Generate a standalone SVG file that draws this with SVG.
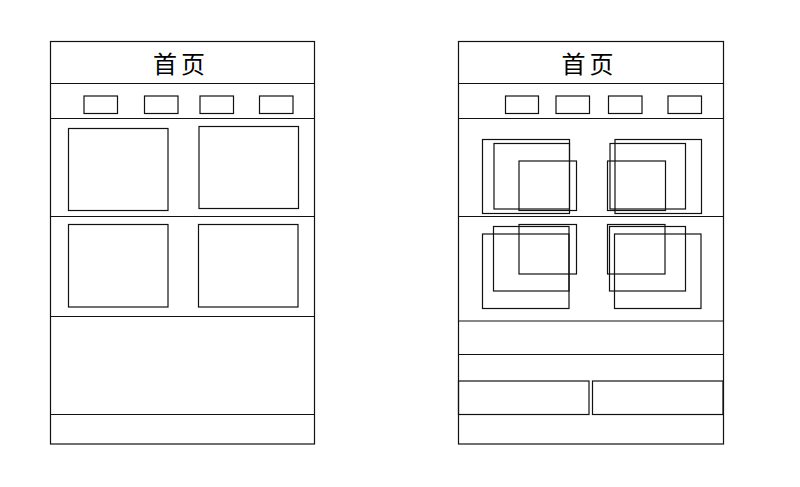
<svg xmlns="http://www.w3.org/2000/svg" width="800" height="487" viewBox="0 0 800 487">
<style>
rect, line { fill: none; stroke: #111; stroke-width: 1.2; }
.bg { fill: #fff; stroke: none; }
text { font-family: "Noto Sans CJK SC", "Noto Sans", sans-serif; font-size: 24px; fill: #000; text-anchor: middle; }
</style>
<rect class="bg" x="0" y="0" width="800" height="487"/>
<g id="page-left">
  <rect x="50.5" y="41.5" width="264" height="402.5"/>
  <line x1="50.5" y1="83.5" x2="314.5" y2="83.5"/>
  <line x1="50.5" y1="118.5" x2="314.5" y2="118.5"/>
  <line x1="50.5" y1="216.5" x2="314.5" y2="216.5"/>
  <line x1="50.5" y1="316.5" x2="314.5" y2="316.5"/>
  <line x1="50.5" y1="414.5" x2="314.5" y2="414.5"/>
  <text x="181" y="73" letter-spacing="4">首页</text>
  <g id="left-nav">
    <rect x="84" y="96" width="33.5" height="17.5"/>
    <rect x="144.5" y="96" width="33.5" height="17.5"/>
    <rect x="200" y="96" width="33.5" height="17.5"/>
    <rect x="259.5" y="96" width="33.5" height="17.5"/>
  </g>
  <g id="left-grid">
    <rect x="68.5" y="128.5" width="99.5" height="82"/>
    <rect x="199" y="126.5" width="99.5" height="82"/>
    <rect x="68.5" y="224.5" width="99.5" height="82.5"/>
    <rect x="198.5" y="224.5" width="99.5" height="82.5"/>
  </g>
</g>
<g id="page-right">
  <rect x="458.5" y="41.5" width="265" height="402.5"/>
  <line x1="458.5" y1="83.5" x2="723.5" y2="83.5"/>
  <line x1="458.5" y1="118.5" x2="723.5" y2="118.5"/>
  <line x1="458.5" y1="216.5" x2="723.5" y2="216.5"/>
  <line x1="458.5" y1="321" x2="723.5" y2="321"/>
  <line x1="458.5" y1="354.5" x2="723.5" y2="354.5"/>
  <text x="589.5" y="73" letter-spacing="4">首页</text>
  <g id="right-nav">
    <rect x="505.5" y="96" width="33" height="17.5"/>
    <rect x="556" y="96" width="33.5" height="17.5"/>
    <rect x="608.5" y="96" width="33.5" height="17.5"/>
    <rect x="668" y="96" width="33.5" height="17.5"/>
  </g>
  <g id="right-cluster-1">
    <rect x="482.5" y="139.5" width="87" height="74"/>
    <rect x="494" y="143.5" width="75.5" height="65.5"/>
    <rect x="519" y="161" width="57.5" height="49.5"/>
  </g>
  <g id="right-cluster-2">
    <rect x="615" y="139.5" width="86.5" height="74"/>
    <rect x="610" y="143.5" width="75.5" height="65.5"/>
    <rect x="607.5" y="161" width="58" height="49.5"/>
  </g>
  <g id="right-cluster-3">
    <rect x="519" y="224.5" width="57.5" height="49.5"/>
    <rect x="493.5" y="226.5" width="75.5" height="64.5"/>
    <rect x="482.5" y="234" width="86.5" height="74.5"/>
  </g>
  <g id="right-cluster-4">
    <rect x="607.5" y="224.5" width="57.5" height="49.5"/>
    <rect x="609.5" y="226.5" width="76" height="64.5"/>
    <rect x="614.5" y="234" width="86.5" height="74.5"/>
  </g>
  <g id="right-buttons">
    <rect x="458.5" y="381" width="130.5" height="33.5"/>
    <rect x="592.5" y="381" width="130.5" height="33.5"/>
  </g>
</g>
</svg>
